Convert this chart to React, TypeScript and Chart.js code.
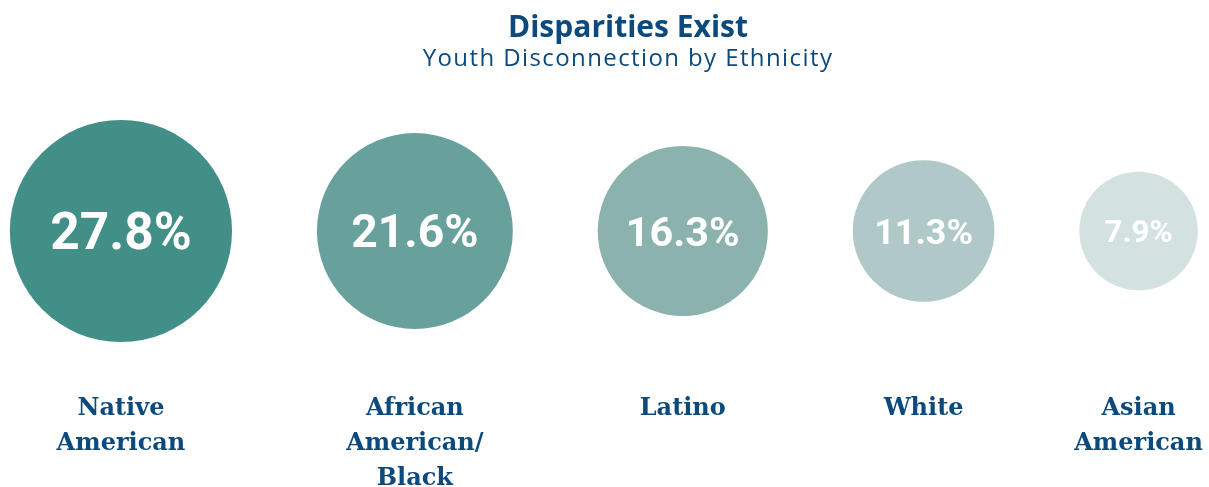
import React, { useEffect, useRef } from "react";
import { Chart, registerables } from "chart.js";

Chart.register(...registerables);

// ---- data ----
const titleText = "Disparities Exist";
const subtitleText = "Youth Disconnection by Ethnicity";
const categories: string[][] = [
  ["Native", "American"],
  ["African", "American/", "Black"],
  ["Latino"],
  ["White"],
  ["Asian", "American"],
];
const values = [27.8, 21.6, 16.3, 11.3, 7.9];
const valueLabels = ["27.8%", "21.6%", "16.3%", "11.3%", "7.9%"];
const colors = ["#428F88", "#68A19C", "#8CB2AE", "#B0C8C8", "#D4E1E1"];

// ---- layout helpers (bubble area proportional to value) ----
const PX_PER_UNIT = 21.07; // pixels per sqrt-value unit
const GAP = 4.03; // gap between bubbles in sqrt-value units
const sizes = values.map((v) => Math.sqrt(v));
const xs: number[] = [];
sizes.forEach((s, i) => {
  xs.push(i === 0 ? 0 : xs[i - 1] + sizes[i - 1] + s + GAP);
});
const X_MIN = -5.74;
const X_MAX = X_MIN + 1209 / PX_PER_UNIT;

const TEXT = "#0C4A7D";

const textPlugin = {
  id: "bubbleText",
  afterDatasetsDraw(chart: any) {
    const ctx = chart.ctx as CanvasRenderingContext2D;
    const meta = chart.getDatasetMeta(0);
    ctx.save();
    ctx.textAlign = "center";
    ctx.textBaseline = "alphabetic";
    meta.data.forEach((el: any, i: number) => {
      const x = el.x;
      const y = el.y;
      const r = sizes[i] * PX_PER_UNIT;
      const fs = 0.385 * r + 8.6;
      ctx.fillStyle = "#FFFFFF";
      ctx.font = `bold ${fs.toFixed(1)}px Roboto`;
      ctx.fillText(valueLabels[i], x, y + (fs * 0.711) / 2);
      ctx.fillStyle = TEXT;
      ctx.font = 'bold 24px "DejaVu Serif"';
      categories[i].forEach((line, j) => {
        ctx.fillText(line, x, 415 + j * 35);
      });
    });
    const cx = 628;
    ctx.fillStyle = TEXT;
    ctx.font = '700 30px "Open Sans"';
    ctx.fillText(titleText, cx, 37);
    ctx.font = '400 24px "Open Sans"';
    (ctx as any).letterSpacing = "1.4px";
    ctx.fillText(subtitleText, cx, 66);
    (ctx as any).letterSpacing = "0px";
    ctx.restore();
  },
};

export default function App() {
  const ref = useRef<HTMLCanvasElement | null>(null);
  useEffect(() => {
    document.body.style.margin = "0";
    const canvas = ref.current!;
    const chart = new Chart(canvas, {
      type: "bubble",
      data: {
        datasets: [
          {
            data: xs.map((x, i) => ({ x, y: 0, r: sizes[i] * PX_PER_UNIT })),
            backgroundColor: colors,
            borderWidth: 0,
            hoverRadius: 0,
            clip: false,
          } as any,
        ],
      },
      options: {
        responsive: false,
        animation: false,
        devicePixelRatio: 1,
        events: [],
        layout: { autoPadding: false, padding: { left: 0, right: 0, top: 0, bottom: 25 } },
        scales: {
          x: { type: "linear", min: X_MIN, max: X_MAX, display: false },
          y: { type: "linear", min: -1, max: 1, display: false },
        },
        plugins: {
          legend: { display: false },
          tooltip: { enabled: false },
          title: { display: false },
        },
      },
      plugins: [textPlugin],
    });
    return () => chart.destroy();
  }, []);
  return (
    <div style={{ width: 1209, height: 487, background: "#fff" }}>
      <canvas ref={ref} width={1209} height={487} style={{ display: "block" }} />
    </div>
  );
}
